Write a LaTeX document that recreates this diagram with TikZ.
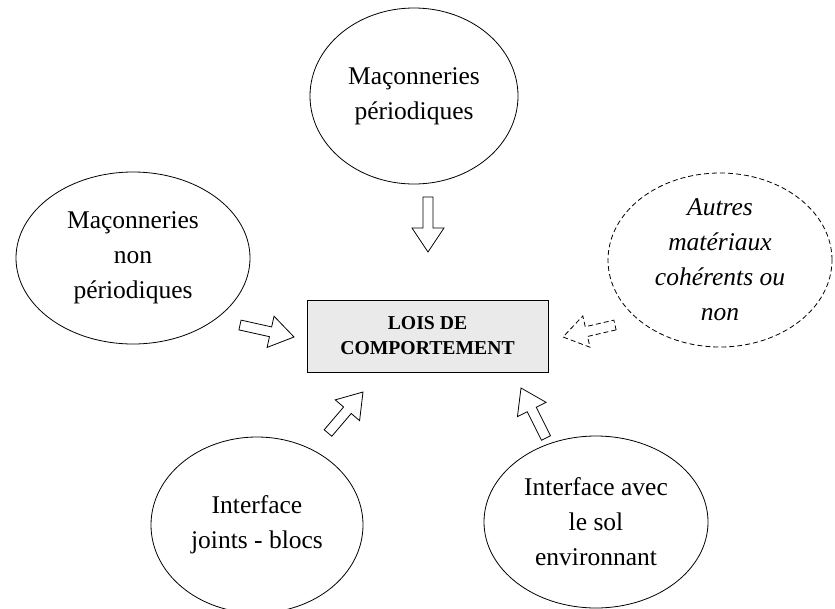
\documentclass[tikz,border=0pt]{standalone}
\usepackage{fontspec}
\setmainfont{Liberation Serif}
\usetikzlibrary{shapes.geometric,calc}
\definecolor{boxgray}{RGB}{234,234,234}
\newcommand\blockarr[3][]{%
  \path ($(#3)!24pt!(#2)$) coordinate (bh);
  \draw[#1] ($(#2)!5pt!90:(#3)$) -- ($(bh)!5pt!90:(#3)$) -- ($(bh)!16pt!90:(#3)$) -- (#3)
    -- ($(bh)!16pt!-90:(#3)$) -- ($(bh)!5pt!-90:(#3)$) -- ($(#2)!5pt!-90:(#3)$) -- cycle;}
\tikzset{
  bubble/.style={ellipse, draw, line width=0.8pt, inner sep=0pt, align=center,
    font=\fontsize{25.5}{35}\selectfont},
  dashbubble/.style={bubble, dash pattern=on 5pt off 3pt},
  lawbox/.style={rectangle, draw, line width=0.8pt, fill=boxgray, inner sep=0pt,
    minimum width=241pt, minimum height=72pt, align=center,
    font=\fontsize{19.7}{25}\selectfont\bfseries},
  barrow/.style={line width=0.8pt, line join=miter},
  dbarrow/.style={barrow, dash pattern=on 5pt off 3pt}
}
\begin{document}
\begin{tikzpicture}[x=1pt,y=-1pt]
\useasboundingbox (0,0) rectangle (835,608);
\node[lawbox] (law) at (427.5,336) {LOIS DE\\COMPORTEMENT};
\node[bubble, minimum width=208pt, minimum height=176pt] (top) at (414,96) {Maçonneries\\périodiques};
\node[bubble, minimum width=234pt, minimum height=172pt] (left) at (133,258) {Maçonneries\\non\\périodiques};
\node[dashbubble, minimum width=224pt, minimum height=174pt] (right) at (720,260) {\itshape Autres\\\itshape matériaux\\\itshape cohérents ou\\\itshape non};
\node[bubble, minimum width=212pt, minimum height=176pt] (bl) at (257,525) {Interface\\joints - blocs};
\node[bubble, minimum width=224pt, minimum height=172pt] (br) at (596,522) {Interface avec\\le sol\\environnant};
\coordinate (t1) at (428,197); \coordinate (t2) at (428,252);
\coordinate (l1) at (240,325); \coordinate (l2) at (294,337);
\coordinate (r1) at (615,325); \coordinate (r2) at (563,337);
\coordinate (b1) at (328,433); \coordinate (b2) at (363,392);
\coordinate (c1) at (546,438); \coordinate (c2) at (521,388);
\blockarr[barrow]{t1}{t2}
\blockarr[barrow]{l1}{l2}
\blockarr[dbarrow]{r1}{r2}
\blockarr[barrow]{b1}{b2}
\blockarr[barrow]{c1}{c2}
\end{tikzpicture}
\end{document}
